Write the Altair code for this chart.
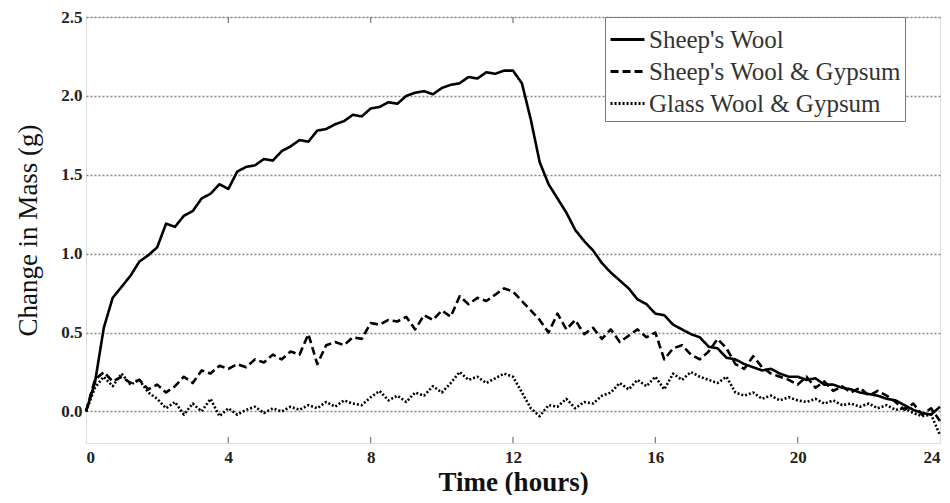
import altair as alt
import pandas as pd

TIME = [0.0, 0.25, 0.5, 0.75, 1.0, 1.25, 1.5, 1.75, 2.0, 2.25, 2.5, 2.75, 3.0, 3.25, 3.5, 3.75,
        4.0, 4.25, 4.5, 4.75, 5.0, 5.25, 5.5, 5.75, 6.0, 6.25, 6.5, 6.75, 7.0, 7.25, 7.5, 7.75,
        8.0, 8.25, 8.5, 8.75, 9.0, 9.25, 9.5, 9.75, 10.0, 10.25, 10.5, 10.75, 11.0, 11.25, 11.5, 11.75,
        12.0, 12.25, 12.5, 12.75, 13.0, 13.25, 13.5, 13.75, 14.0, 14.25, 14.5, 14.75, 15.0, 15.25, 15.5, 15.75,
        16.0, 16.25, 16.5, 16.75, 17.0, 17.25, 17.5, 17.75, 18.0, 18.25, 18.5, 18.75, 19.0, 19.25, 19.5, 19.75,
        20.0, 20.25, 20.5, 20.75, 21.0, 21.25, 21.5, 21.75, 22.0, 22.25, 22.5, 22.75, 23.0, 23.25, 23.5, 23.75,
        24.0]

SHEEP_WOOL = [0.00, 0.18, 0.53, 0.72, 0.79, 0.86, 0.95, 0.99, 1.04, 1.19, 1.17, 1.24, 1.27, 1.35, 1.38, 1.44,
              1.41, 1.52, 1.55, 1.56, 1.60, 1.59, 1.65, 1.68, 1.72, 1.71, 1.78, 1.79, 1.82, 1.84, 1.88, 1.87,
              1.92, 1.93, 1.96, 1.95, 2.00, 2.02, 2.03, 2.01, 2.05, 2.07, 2.08, 2.12, 2.11, 2.15, 2.14, 2.16,
              2.16, 2.08, 1.85, 1.58, 1.44, 1.35, 1.26, 1.15, 1.08, 1.02, 0.94, 0.88, 0.83, 0.78, 0.71, 0.68,
              0.62, 0.61, 0.55, 0.52, 0.49, 0.47, 0.41, 0.40, 0.34, 0.33, 0.30, 0.28, 0.26, 0.27, 0.24, 0.22,
              0.22, 0.20, 0.21, 0.17, 0.17, 0.15, 0.14, 0.12, 0.11, 0.10, 0.08, 0.07, 0.04, 0.01, -0.01, -0.02,
              0.03]

SHEEP_WOOL_GYPSUM = [0.00, 0.20, 0.25, 0.19, 0.22, 0.18, 0.20, 0.14, 0.17, 0.12, 0.16, 0.22, 0.18, 0.26, 0.24, 0.29,
                     0.27, 0.30, 0.28, 0.33, 0.31, 0.36, 0.33, 0.38, 0.36, 0.49, 0.30, 0.42, 0.44, 0.42, 0.47, 0.46,
                     0.56, 0.55, 0.58, 0.57, 0.60, 0.52, 0.61, 0.58, 0.64, 0.60, 0.73, 0.68, 0.72, 0.70, 0.74, 0.78,
                     0.76, 0.70, 0.64, 0.58, 0.50, 0.62, 0.52, 0.58, 0.49, 0.53, 0.46, 0.52, 0.44, 0.48, 0.52, 0.47,
                     0.50, 0.33, 0.40, 0.42, 0.36, 0.33, 0.38, 0.46, 0.40, 0.30, 0.27, 0.35, 0.28, 0.24, 0.22, 0.20,
                     0.17, 0.22, 0.15, 0.19, 0.13, 0.16, 0.12, 0.15, 0.10, 0.13, 0.10, 0.06, 0.01, 0.05, -0.02, 0.02,
                     -0.06]

GLASS_WOOL_GYPSUM = [0.00, 0.15, 0.22, 0.16, 0.24, 0.17, 0.20, 0.12, 0.08, 0.02, 0.06, -0.02, 0.05, 0.00, 0.08, -0.03,
                     0.02, -0.02, 0.01, 0.03, -0.01, 0.02, 0.00, 0.03, 0.01, 0.04, 0.02, 0.06, 0.03, 0.07, 0.05, 0.04,
                     0.09, 0.13, 0.07, 0.10, 0.06, 0.12, 0.10, 0.16, 0.12, 0.18, 0.25, 0.20, 0.22, 0.18, 0.21, 0.24,
                     0.22, 0.12, 0.02, -0.03, 0.04, 0.03, 0.08, 0.02, 0.06, 0.05, 0.10, 0.12, 0.18, 0.14, 0.20, 0.16,
                     0.22, 0.14, 0.24, 0.20, 0.25, 0.22, 0.20, 0.18, 0.22, 0.12, 0.10, 0.12, 0.08, 0.10, 0.07, 0.09,
                     0.07, 0.06, 0.08, 0.05, 0.07, 0.04, 0.05, 0.03, 0.05, 0.02, 0.04, 0.01, 0.02, -0.01, -0.03, -0.02,
                     -0.15]

SERIES = ["Sheep's Wool", "Sheep's Wool & Gypsum", "Glass Wool & Gypsum"]
X_TICKS = [0, 4, 8, 12, 16, 20, 24]
Y_TICKS = [0.0, 0.5, 1.0, 1.5, 2.0, 2.5]

rows = []
for name, vals in zip(SERIES, [SHEEP_WOOL, SHEEP_WOOL_GYPSUM, GLASS_WOOL_GYPSUM]):
    for t, v in zip(TIME, vals):
        rows.append({"time": t, "mass": v, "series": name})
df = pd.DataFrame(rows)

W, H = 854, 426
FONT = "Liberation Serif"

x_scale = alt.Scale(domain=[0, 24], nice=False, zero=False)
y_scale = alt.Scale(domain=[-0.2, 2.5], nice=False, zero=False)

lines = alt.Chart(df).mark_line(strokeWidth=2.6, color="black", strokeJoin="round").encode(
    x=alt.X("time:Q", scale=x_scale,
            axis=alt.Axis(values=X_TICKS, title="Time (hours)", grid=False, tickSize=0,
                          labelPadding=6, labelFontSize=17, labelFontWeight="bold", labelFont=FONT,
                          titleFontSize=27, titleFontWeight="bold", titlePadding=4, titleFont=FONT,
                          domain=False, labelColor="#222", titleColor="#111")),
    y=alt.Y("mass:Q", scale=y_scale,
            axis=alt.Axis(values=Y_TICKS, format=".1f", title="Change in Mass (g)", grid=True,
                          gridDash=[2, 2], gridColor="#888", gridWidth=1.6, tickSize=0,
                          labelPadding=4, labelFontSize=17, labelFontWeight="bold", labelFont=FONT,
                          titleFontSize=27, titleFontWeight="normal", titlePadding=18, titleFont=FONT,
                          domain=False, labelColor="#222", titleColor="#111")),
    strokeDash=alt.StrokeDash("series:N",
                              scale=alt.Scale(domain=SERIES, range=[[1, 0], [8, 4], [2, 2]]),
                              sort=SERIES,
                              legend=alt.Legend(title=None, orient="none", legendX=519, legendY=0,
                                                symbolType="stroke", symbolSize=1150,
                                                symbolStrokeWidth=3, symbolStrokeColor="black",
                                                labelFontSize=25, labelFont=FONT, labelColor="#333",
                                                labelLimit=400, rowPadding=0, labelOffset=3,
                                                strokeColor="#777", fillColor="white",
                                                padding=4, symbolOffset=0)),
    order=alt.Order("time:Q"),
)

tick_df = pd.DataFrame({"t": X_TICKS[1:-1]})
bottom_ticks = alt.Chart(tick_df).mark_rule(color="#777", strokeWidth=1.2).encode(
    x=alt.X("t:Q", scale=x_scale), y=alt.value(H), y2=alt.value(H - 6))
top_ticks = alt.Chart(tick_df).mark_rule(color="#777", strokeWidth=1.2).encode(
    x=alt.X("t:Q", scale=x_scale), y=alt.value(0), y2=alt.value(6))

chart = alt.layer(lines, bottom_ticks, top_ticks).properties(
    width=W, height=H,
    autosize=alt.AutoSizeParams(type="none"),
    padding={"left": 78, "top": 9, "right": 2, "bottom": 52},
).configure_view(stroke="#777", strokeWidth=2).configure(
    font=FONT
)

chart.save("out.html", embed_options={"renderer": "svg", "actions": False})
